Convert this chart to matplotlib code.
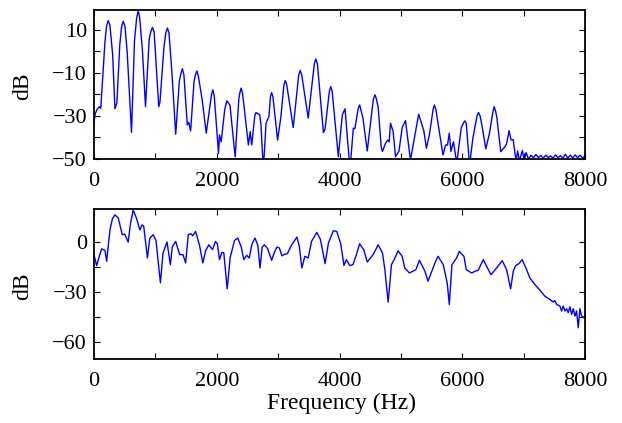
import matplotlib
matplotlib.use("Agg")
import matplotlib.pyplot as plt
from matplotlib.ticker import FixedLocator

# ---------------- data ----------------
top_freq = [0, 20, 50, 86, 110, 179, 206, 232, 260, 304, 341, 373, 420, 450, 476, 505, 540, 611,
            660, 695, 720, 745, 790, 839, 900, 925, 952, 980, 1010, 1055, 1075, 1140, 1170, 1196,
            1222, 1270, 1331, 1390, 1415, 1440, 1465, 1520, 1545, 1574, 1630, 1652, 1677, 1700,
            1760, 1829, 1900, 1915, 1937, 1960, 2029, 2045, 2072, 2130, 2164, 2215, 2300, 2360,
            2375, 2397, 2420, 2516, 2545, 2570, 2620, 2641, 2700, 2720, 2759, 2803, 2850, 2875,
            2894, 2915, 2991, 3045, 3095, 3116, 3140, 3246, 3335, 3360, 3385, 3490, 3590, 3614,
            3640, 3738, 3765, 3835, 3857, 3880, 3981, 4046, 4090, 4171, 4225, 4250, 4305, 4328,
            4382, 4452, 4550, 4577, 4600, 4630, 4679, 4700, 4750, 4788, 4810, 4831, 4874, 4913,
            4969, 5021, 5075, 5156, 5238, 5290, 5375, 5416, 5465, 5525, 5546, 5570, 5686, 5730,
            5760, 5789, 5815, 5857, 5910, 5984, 6038, 6065, 6119, 6173, 6240, 6265, 6290, 6320,
            6384, 6444, 6500, 6520, 6545, 6565, 6627, 6695, 6722, 6763, 6795, 6830, 6876, 6903,
            6930, 6980, 7010, 7040, 7080, 7120, 7160, 7200, 7240, 7280, 7320, 7360, 7400, 7440,
            7480, 7520, 7560, 7600, 7640, 7680, 7720, 7760, 7800, 7840, 7880, 7920, 7960, 8000]
top_db = [-33, -29, -27, -25.7, -26.5, 4.6, 12, 14.3, 12, -1.6, -26.7, -24, 3, 11.5, 13.9, 11.5, 0, -37.6,
          5, 15.5, 18.8, 15.5, 0, -25.7, 6, 9, 11.1, 9, -5, -25.7, -23.5, 2, 8.5, 10.8,
          8.5, -10, -38.5, -14, -10.5, -8.1, -11, -34.2, -33, -37, -14, -11, -9.1, -11.5,
          -22, -38, -23, -20, -17.9, -21, -47.4, -38.8, -42, -27, -23, -25, -49, -22,
          -19.5, -17.1, -19.5, -43.5, -37.3, -43.5, -30, -28.4, -29.5, -34, -55, -33.4, -30.3, -21,
          -19.2, -21, -41.2, -30.5, -15.5, -13.6, -15.5, -35.4, -11, -8.9, -11, -31, -5.8, -3.6,
          -5.8, -37.8, -36, -18.5, -16.4, -18.5, -48.9, -29.5, -26.7, -55, -35.7, -36, -26.5, -24.9,
          -31, -46.3, -22.5, -20.2, -22, -26, -44.3, -46.5, -42.7, -41.2, -42, -33.4, -37.3, -48.9,
          -46.4, -35.4, -32.2, -50.5, -37.3, -29.2, -37, -45, -38.7, -27, -24.9, -27, -48.1, -43.5,
          -43.5, -38, -46.5, -42, -52, -35.4, -32.3, -33.4, -53, -40.4, -30, -28.4, -30, -34.2,
          -45.3, -38, -28, -25.7, -28, -31, -46.6, -44.3, -43, -36.8, -41.2, -41, -51, -46.3,
          -51, -46, -51, -47, -50, -48.2, -49.4, -47.9, -49.3, -48.4, -49.6, -48.2, -49.3, -48.6,
          -49.6, -48.1, -49.4, -48.5, -49.5, -47.8, -49.6, -48.2, -49.5, -48.1, -49.4, -48.2, -49.6, -48.6]

bot_freq = [0, 43, 86, 125, 179, 206, 260, 300, 341, 395, 460, 500, 557, 590, 638, 692, 747, 784,
            810, 871, 909, 963, 1010, 1082, 1125, 1190, 1244, 1275, 1331, 1396, 1450, 1493, 1536,
            1580, 1610, 1655, 1720, 1774, 1820, 1871, 1930, 1980, 2010, 2045, 2083, 2115, 2170,
            2220, 2290, 2342, 2400, 2440, 2488, 2530, 2575, 2624, 2670, 2705, 2740, 2775, 2830,
            2894, 2940, 2981, 3020, 3062, 3110, 3150, 3215, 3306, 3345, 3387, 3435, 3490, 3545,
            3630, 3690, 3765, 3820, 3900, 3955, 4020, 4073, 4111, 4168, 4220, 4275, 4328, 4395,
            4452, 4548, 4631, 4700, 4739, 4793, 4847, 4890, 4955, 5020, 5064, 5140, 5245, 5302,
            5392, 5443, 5555, 5605, 5690, 5755, 5789, 5832, 5908, 5951, 6027, 6065, 6153, 6206,
            6260, 6342, 6397, 6467, 6560, 6651, 6723, 6788, 6831, 6869, 6923, 6977, 7048, 7102,
            7184, 7265, 7347, 7428, 7483, 7510, 7537, 7591, 7619, 7646, 7673, 7700, 7727, 7754,
            7782, 7809, 7836, 7863, 7890, 7917, 7945, 7972, 8000]
bot_db = [-7.5, -14.1, -8.5, -4, -5, -11.5, 7.3, 14, 16.3, 14.5, 4.4, 4.8, 0, 10, 19.3, 14.3, 7.3, 10.3,
          9.5, -9.5, 2.4, 4.4, 1, -24.4, -6.5, 0, -13.5, -3, 0.4, -7.5, -7.5, -12.5, 4.4,
          5, 3.8, 6.4, -2, -12.5, -5, -1.6, -4.5, 0.4, -1, -10.5, -6.1, -6.5, -28,
          -9, 1, 2.4, -3, -10.5, -7.9, -9.5, -1, 2.4, -2, -15.5, -3, -1.6, -4,
          -10.9, -6, -3, -3.5, -8.2, -7.2, -7, -2, 3, -2.5, -15.5, -8.5, -9.5, 0.5,
          5.8, 1.5, -12.9, -0.5, 6.8, 6.4, -1, -14, -10.5, -14, -13.5, -7.5, -1, -4.6,
          -11.9, -7.5, -1.6, -6.5, -16.5, -35.9, -13.5, -10.5, -5.2, -8.5, -15.5, -18.5, -16.5, -10.9,
          -17.5, -23.4, -12.5, -8.5, -13.5, -24.4, -37.4, -13.5, -9.5, -5.6, -8.5, -16.5, -18.5, -17.5,
          -16.9, -10.5, -14.5, -19.5, -15.5, -11.1, -16.5, -28, -17.5, -14.1, -12.9, -10.5, -16.5, -21.5,
          -25.4, -28.8, -32.4, -34.4, -35.9, -35, -37.3, -38.3, -41.3, -38.3, -41.3, -39.9, -42.3, -38.7,
          -43.3, -39.9, -44.3, -41.3, -51.3, -39.9, -44.3, -45.3, -44]

x_major = [0, 2000, 4000, 6000, 8000]
x_minor = [1000, 3000, 5000, 7000]
top_yticks = [10, -10, -30, -50]
top_yminor = [0, -20, -40]
bot_yticks = [0, -30, -60]
bot_yminor = [-15, -45]

# ---------------- figure ----------------
plt.rcParams['font.family'] = ['Liberation Serif', 'DejaVu Serif']
plt.rcParams['font.size'] = 16

W, H = 622, 423
fig = plt.figure(figsize=(W / 100, H / 100), dpi=100)
ax1 = fig.add_axes([94 / W, 1 - 159 / H, 491 / W, (159 - 9.7) / H])
ax2 = fig.add_axes([94 / W, 1 - 359 / H, 491 / W, (359 - 208.7) / H])

ax1.plot(top_freq, top_db, color='#0000ff', lw=1.0)
ax2.plot(bot_freq, bot_db, color='#0000ff', lw=1.0)

ax1.set_ylim(-50, 19.3)
ax2.set_ylim(-70, 20)
ax1.set_yticks(top_yticks)
ax1.yaxis.set_minor_locator(FixedLocator(top_yminor))
ax2.set_yticks(bot_yticks)
ax2.yaxis.set_minor_locator(FixedLocator(bot_yminor))

for ax in (ax1, ax2):
    ax.set_xlim(0, 8000)
    ax.set_xticks(x_major)
    ax.xaxis.set_minor_locator(FixedLocator(x_minor))
    ax.tick_params(which='both', direction='in', top=True, right=True,
                   length=4, width=0.8)
    ax.tick_params(axis='x', which='major', pad=9)
    ax.tick_params(axis='y', which='major', pad=5)
    for s in ax.spines.values():
        s.set_linewidth(1.3)
    ax.set_yticklabels([str(t).replace('-', '\u2212') for t in ax.get_yticks()])

# axis labels
fig.text(23 / W, 1 - 86 / H, 'dB', rotation=90, ha='center', va='center', fontsize=17)
fig.text(23 / W, 1 - 286 / H, 'dB', rotation=90, ha='center', va='center', fontsize=17)
fig.text(342 / W, 1 - 403 / H, 'Frequency (Hz)', ha='center', va='center', fontsize=17)

fig.savefig('out.png', dpi=100)
